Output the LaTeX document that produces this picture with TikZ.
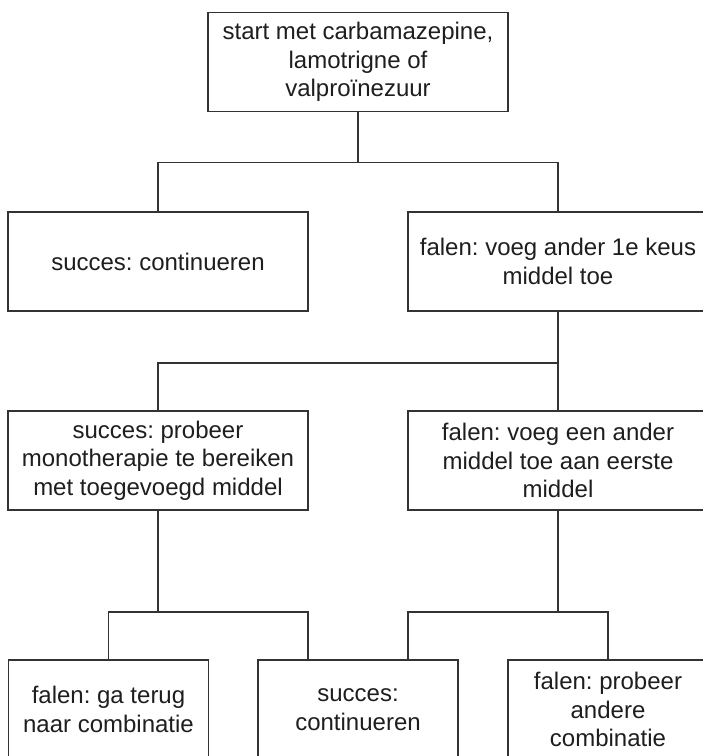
\documentclass[tikz,border=0pt]{standalone}
\usepackage{fontspec}
\setmainfont{Liberation Sans}
\usetikzlibrary{positioning}
\frenchspacing
\definecolor{lijn}{HTML}{333333}
\definecolor{tekst}{HTML}{1E1E1E}
\tikzset{
  stap/.style={draw=lijn, line width=1.5pt, text=tekst, align=center,
    minimum width=300pt, minimum height=99pt, inner sep=2pt,
    font=\fontsize{24}{28.5}\selectfont},
  stapklein/.style={stap, minimum width=200pt},
  verbind/.style={draw=lijn, line width=1.5pt}
}

\begin{document}
\begin{tikzpicture}[x=1pt,y=1pt]
\useasboundingbox (0,0) rectangle (703,-756);
\clip (0,0) rectangle (703,-756);
% start
\node[stap] (start) at (358,-62) {start met carbamazepine,\\lamotrigne of\\valproïnezuur};
% tweede rij
\node[stap] (ok1) at (158,-261.5) {succes: continueren};
\node[stap] (fail1) at (558,-261.5) {falen: voeg ander 1e keus\\middel toe};
% derde rij
\node[stap] (mono) at (158,-460.5) {succes: probeer\\monotherapie te bereiken\\met toegevoegd middel};
\node[stap] (add) at (558,-460.5) {falen: voeg een ander\\middel toe aan eerste\\middel};
% onderste rij
\node[stapklein] (back) at (108.5,-709.5) {falen: ga terug\\naar combinatie};
\node[stapklein] (ok2) at (358,-709.5) {succes:\\continueren};
\node[stapklein] (other) at (608,-709.5) {falen: probeer\\andere\\combinatie};

\draw[verbind] (start.south) -- ++(0,-50) -| (ok1.north);
\draw[verbind] (start.south) -- ++(0,-50) -| (fail1.north);
\draw[verbind] (fail1.south) -- ++(0,-51) -| (mono.north);
\draw[verbind] (fail1.south) -- (add.north);
\draw[verbind] (mono.south) -- ++(0,-101) -| (back.north);
\draw[verbind] (mono.south) -- ++(0,-101) -| ([xshift=-50pt]ok2.north);
\draw[verbind] (add.south) -- ++(0,-101) -| ([xshift=50pt]ok2.north);
\draw[verbind] (add.south) -- ++(0,-101) -| (other.north);
\end{tikzpicture}
\end{document}
